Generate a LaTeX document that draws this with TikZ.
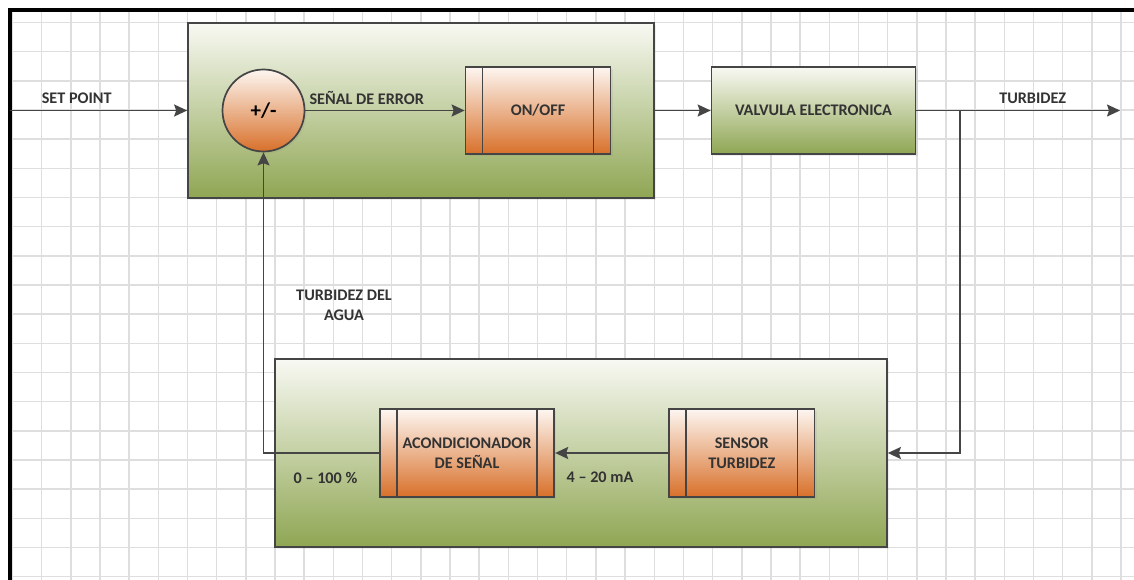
\documentclass[tikz,border=0pt]{standalone}
\usepackage{fontspec}
\setmainfont{Carlito}
\usetikzlibrary{arrows.meta,shadows}
\definecolor{gridc}{HTML}{DEDEDE}
\definecolor{linec}{HTML}{454545}
\definecolor{txtc}{HTML}{333333}
\definecolor{gtop}{HTML}{F8F9F3}
\definecolor{gbot}{HTML}{8FA653}
\definecolor{otop}{HTML}{FDF6F1}
\definecolor{obot}{HTML}{D8702A}
\tikzset{
  lbl/.style={font=\fontsize{16.2}{19.5}\selectfont\bfseries, text=txtc, align=center, inner sep=0pt},
  greenbox/.style={draw=linec, line width=1.7pt, top color=gtop, bottom color=gbot, inner sep=0pt,
     drop shadow={opacity=0.12, shadow xshift=2pt, shadow yshift=-2pt}},
  orangebox/.style={draw=linec, line width=1.7pt, top color=otop, bottom color=obot, inner sep=0pt,
     drop shadow={opacity=0.12, shadow xshift=2pt, shadow yshift=-2pt}},
  subproc/.style={orangebox, lbl,
     path picture={
       \draw[linec, line width=1.7pt] ([xshift=17pt]path picture bounding box.north west) -- ([xshift=17pt]path picture bounding box.south west);
       \draw[linec, line width=1.7pt] ([xshift=-17pt]path picture bounding box.north east) -- ([xshift=-17pt]path picture bounding box.south east);
     }},
  arr/.style={draw=linec, line width=1.7pt, -{Stealth[length=13pt, width=12pt, inset=2pt]}},
  conn/.style={draw=linec, line width=1.7pt}
}
\begin{document}
\begin{tikzpicture}[x=1pt, y=-1pt]
\useasboundingbox (0,0) rectangle (1134,580);
\fill[white] (0,0) rectangle (1134,580);
% grid
\foreach \k in {0,...,38} { \draw[gridc, line width=1.5pt] ({12.5+29.17*\k},12) -- ({12.5+29.17*\k},580); }
\foreach \k in {0,...,19} { \draw[gridc, line width=1.5pt] (12,{22.5+29.17*\k}) -- (1134,{22.5+29.17*\k}); }
% frame
\draw[black, line width=4pt] (10.3,580) -- (10.3,10.3) -- (1134,10.3);

% top group
\node[greenbox, minimum width=466pt, minimum height=175pt] (box1) at (421,110.5) {};
\node[orangebox, circle, minimum size=82pt, font=\fontsize{21}{24}\selectfont\bfseries, text=black] (sum) at (263.5,110.5) {+/-};
\node[subproc, minimum width=145pt, minimum height=87.5pt] (onoff) at (538,110.5) {ON/OFF};
\node[greenbox, lbl, minimum width=204pt, minimum height=87pt] (valve) at (813.5,110.5) {VALVULA ELECTRONICA};

% bottom group
\node[greenbox, minimum width=612pt, minimum height=188pt] (box2) at (581,453) {};
\node[subproc, minimum width=174.6pt, minimum height=87.7pt] (acond) at (467,453) {ACONDICIONADOR\\DE SEÑAL};
\node[subproc, minimum width=145.6pt, minimum height=88pt] (sensor) at (741.8,453) {SENSOR\\TURBIDEZ};

% connectors
\coordinate (sp) at (10.3,110.5);
\coordinate (out) at (1120,110.5);
\coordinate (br) at (960,110.5);
\draw[arr] (sp) -- (box1.west);
\draw[arr] (sum.east) -- (onoff.west);
\draw[arr] (box1.east) -- (valve.west);
\draw[arr] (valve.east) -- (out);
\draw[arr] (br) |- (box2.east);
\draw[arr] (sensor.west) -- (acond.east);
\draw[arr] (acond.west) -| (sum.south);

% labels
\node[lbl] (lsp) at (76.7,98) {SET POINT};
\node[lbl] (lerr) at (366.7,98) {SEÑAL DE ERROR};
\node[lbl] (ltur) at (1032.7,98) {TURBIDEZ};
\node[lbl] (lagua) at (344,305.5) {TURBIDEZ DEL\\AGUA};
\node[lbl] (lpct) at (325.5,477.5) {0 – 100 \%};
\node[lbl] (lma) at (600,477.5) {4 – 20 mA};
\end{tikzpicture}
\end{document}
